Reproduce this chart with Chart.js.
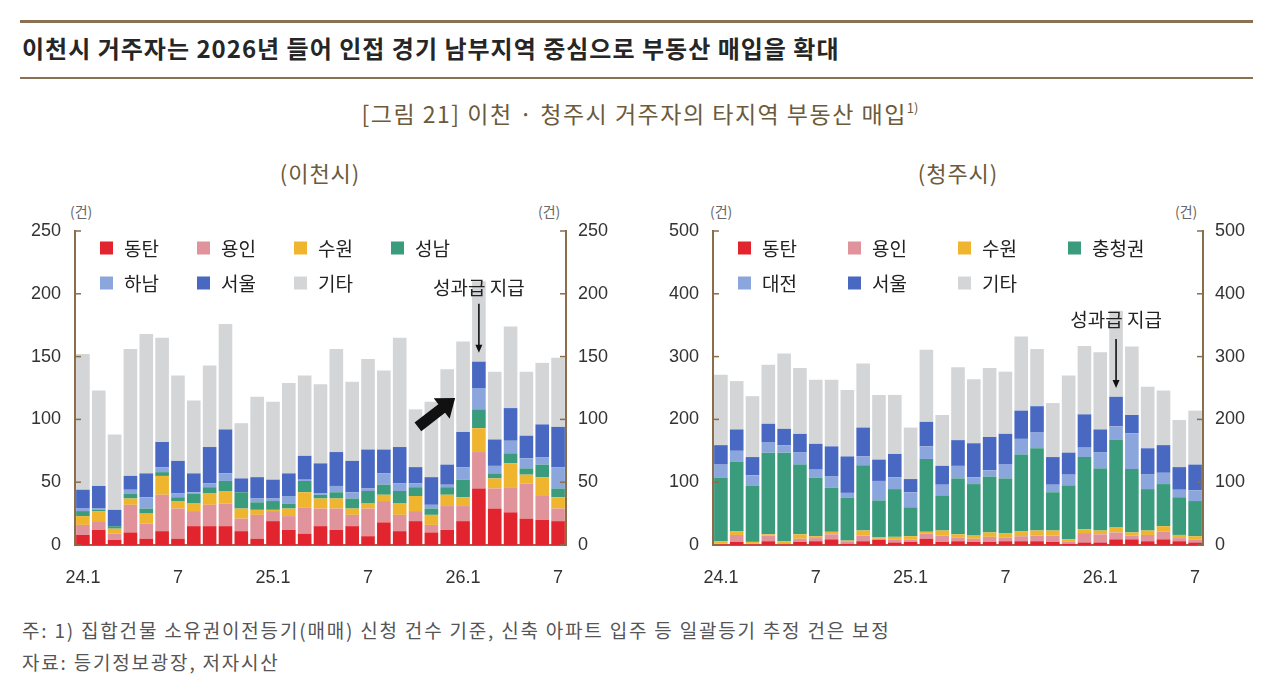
<!DOCTYPE html>
<html><head><meta charset="utf-8">
<script src="https://cdn.jsdelivr.net/npm/chart.js@4.4.1/dist/chart.umd.min.js"></script>
<style>
html,body{margin:0;padding:0;background:#fff;}
body{width:1280px;height:682px;position:relative;overflow:hidden;font-family:"Noto Sans CJK KR","Noto Sans",sans-serif;}
.abs{position:absolute;white-space:nowrap;}
.rule{position:absolute;left:20px;width:1233px;background:#8a7152;}
#title{left:22px;top:32px;font-size:24px;font-weight:700;color:#262626;line-height:32px;letter-spacing:1px;}
#sub{left:0;width:1280px;text-align:center;top:98px;font-size:23px;color:#6b5a3c;line-height:30px;letter-spacing:1.5px;}
#sub sup{font-size:13px;vertical-align:10px;line-height:0;letter-spacing:0;}
.ct{top:157px;font-size:22px;color:#6b5a3c;line-height:30px;letter-spacing:1px;transform:translateX(-50%);}
.unit{font-size:14px;color:#666;top:202px;line-height:18px;}
.note{left:22px;font-size:19px;color:#555;line-height:24px;letter-spacing:1.8px;}
.box{position:absolute;top:195px;width:640px;height:405px;}
</style></head>
<body>
<div class="rule" style="top:20px;height:3px;"></div>
<div id="title" class="abs">이천시 거주자는 2026년 들어 인접 경기 남부지역 중심으로 부동산 매입을 확대</div>
<div class="rule" style="top:77px;height:2px;"></div>
<div id="sub" class="abs">[그림 21] 이천 · 청주시 거주자의 타지역 부동산 매입<sup>1)</sup></div>
<div class="abs ct" style="left:320px;">(이천시)</div>
<div class="abs ct" style="left:958px;">(청주시)</div>
<div class="abs unit" style="left:70px;">(건)</div>
<div class="abs unit" style="left:538px;">(건)</div>
<div class="abs unit" style="left:710px;">(건)</div>
<div class="abs unit" style="left:1175px;">(건)</div>
<div class="box" style="left:0;"><canvas id="c1" width="640" height="405"></canvas></div>
<div class="box" style="left:640px;"><canvas id="c2" width="640" height="405"></canvas></div>
<div class="abs note" style="top:618px;">주: 1) 집합건물 소유권이전등기(매매) 신청 건수 기준, 신축 아파트 입주 등 일괄등기 추정 건은 보정</div>
<div class="abs note" style="top:650px;">자료: 등기정보광장, 저자시산</div>
<script>
// ---- categories & tick labels ----
const categories = ['24.1','24.2','24.3','24.4','24.5','24.6','24.7','24.8','24.9','24.10','24.11','24.12',
  '25.1','25.2','25.3','25.4','25.5','25.6','25.7','25.8','25.9','25.10','25.11','25.12',
  '26.1','26.2','26.3','26.4','26.5','26.6','26.7'];
const xTickLabels = ['24.1','','','','','','7','','','','','',
  '25.1','','','','','','7','','','','','',
  '26.1','','','','','','7'];

// ---- 이천시 series ----
const icheonNames = ['동탄','용인','수원','성남','하남','서울','기타'];
const icheonDongtan = [8,12,4,10,5,11,5,15,15,15,11,5,19,12,9,15,12,15,7,18,11,19,10,12,19,45,29,26,21,20,19];
const icheonYongin  = [8,7,5,22,12,29,24,12,17,18,10,19,8,11,21,14,17,9,22,17,13,8,6,19,12,29,16,20,28,19,10];
const icheonSuwon   = [7,8,4,5,8,15,6,6,9,10,8,4,1,6,12,8,8,5,4,5,9,12,8,9,7,19,8,19,7,15,9];
const icheonSeongnam= [4,1,2,4,4,3,3,8,5,8,13,6,7,4,9,3,5,8,10,8,10,7,5,6,14,15,4,8,5,10,7];
const icheonHanam   = [2,1,0,3,9,4,3,1,3,6,0,3,2,6,1,1,5,5,2,9,6,3,3,2,10,17,6,10,8,6,17];
const icheonSeoul   = [15,18,13,11,19,20,26,15,29,35,11,17,15,18,19,24,27,25,31,19,29,13,22,16,28,21,21,26,18,26,32];
const icheonEtc     = [108,76,60,101,111,83,68,58,65,84,44,64,62,72,64,63,82,63,72,63,87,46,60,76,72,64,54,65,51,49,55];

// ---- 청주시 series ----
const cheongjuNames = ['동탄','용인','수원','충청권','대전','서울','기타'];
const cheongjuDongtan = [1,5,1,6,1,5,6,9,2,6,8,4,5,10,5,6,5,5,6,6,6,5,2,4,4,9,9,6,9,6,4];
const cheongjuYongin  = [1,11,1,9,2,5,5,8,4,9,2,5,4,8,10,6,5,8,6,8,9,10,3,15,13,11,6,10,12,5,5];
const cheongjuSuwon   = [4,6,3,2,3,7,3,4,1,8,2,4,5,3,8,5,5,7,7,8,8,8,4,6,6,8,5,7,9,5,5];
const cheongjuChung   = [101,111,89,130,141,111,93,70,68,104,59,76,46,116,56,89,82,89,87,122,131,61,86,115,99,140,101,66,67,60,56];
const cheongjuDaejeon = [21,17,17,17,12,20,13,18,8,14,31,19,24,20,17,20,11,10,22,25,25,12,17,15,26,21,57,24,18,12,17];
const cheongjuSeoul   = [31,34,29,29,26,29,41,48,58,46,34,37,21,39,30,41,54,53,49,45,42,44,35,53,36,47,29,41,44,36,41];
const cheongjuEtc     = [112,77,97,94,120,105,102,106,106,102,103,94,82,115,81,116,102,110,99,118,91,86,123,109,123,137,109,98,87,75,86];

// ---- styles ----
const COLORS = ['#e2242e','#e0939b','#efb52e','#3b9b7d','#8ba6dd','#4868c2','#d4d5d7'];
const AXIS = '#8a6e4b';
const NUMFONT = '"Liberation Sans","Noto Sans",sans-serif';
const KRFONT = '"Noto Sans CJK KR","Noto Sans",sans-serif';

const inwardTicks = {
  id:'inwardTicks',
  afterDraw(chart){
    const ctx=chart.ctx, a=chart.chartArea;
    ctx.save(); ctx.strokeStyle=AXIS; ctx.lineWidth=1.5;
    ['y','y2'].forEach(id=>{
      const s=chart.scales[id]; const left = s.position==='left';
      s.ticks.forEach(t=>{
        const py=s.getPixelForValue(t.value);
        const x0= left? a.left : a.right;
        ctx.beginPath(); ctx.moveTo(x0,py); ctx.lineTo(x0+(left?6:-6),py); ctx.stroke();
      });
    });
    ctx.restore();
  }
};

const gridLegend = {
  id:'gridLegend',
  afterDraw(chart, args, o){
    const ctx=chart.ctx, a=chart.chartArea;
    ctx.save();
    ctx.font = '19px '+KRFONT; ctx.textBaseline='middle'; ctx.textAlign='left';
    chart.data.datasets.forEach((ds,i)=>{
      const r=Math.floor(i/o.cols), c=i%o.cols;
      const x=a.left+o.offsetX+c*o.pitch, y=a.top+o.rows[r];
      ctx.fillStyle=ds.backgroundColor; ctx.fillRect(x,y-6.5,13,13);
      ctx.fillStyle='#222'; ctx.fillText(ds.label,x+24,y+1);
    });
    ctx.restore();
  }
};

const notes = {
  id:'notes',
  afterDraw(chart, args, o){
    const ctx=chart.ctx, xs=chart.scales.x, ys=chart.scales.y;
    ctx.save();
    const px=xs.getPixelForValue(o.index);
    ctx.font='19px '+KRFONT; ctx.fillStyle='#222'; ctx.textAlign='center'; ctx.textBaseline='middle';
    ctx.fillText(o.text, px, ys.getPixelForValue(o.textValue));
    const y1=ys.getPixelForValue(o.lineFrom), y2=ys.getPixelForValue(o.lineTo);
    ctx.strokeStyle='#111'; ctx.lineWidth=1.6;
    ctx.beginPath(); ctx.moveTo(px,y1); ctx.lineTo(px,y2-5); ctx.stroke();
    ctx.fillStyle='#111'; ctx.beginPath(); ctx.moveTo(px,y2); ctx.lineTo(px-3.5,y2-8); ctx.lineTo(px+3.5,y2-8); ctx.closePath(); ctx.fill();
    if(o.bigArrow){
      const b=o.bigArrow;
      const x0=xs.getPixelForValue(b.from[0]), yy0=ys.getPixelForValue(b.from[1]);
      const x1=xs.getPixelForValue(b.to[0]), yy1=ys.getPixelForValue(b.to[1]);
      const ang=Math.atan2(yy1-yy0,x1-x0), len=Math.hypot(x1-x0,yy1-yy0);
      ctx.translate(x0,yy0); ctx.rotate(ang);
      const sw=5.5, hl=17, hw=13;
      ctx.fillStyle='#111';
      ctx.beginPath();
      ctx.moveTo(0,-sw); ctx.lineTo(len-hl,-sw); ctx.lineTo(len-hl,-hw); ctx.lineTo(len,0);
      ctx.lineTo(len-hl,hw); ctx.lineTo(len-hl,sw); ctx.lineTo(0,sw); ctx.closePath(); ctx.fill();
    }
    ctx.restore();
  }
};

function makeChart(id, names, series, maxV, step, leftW, rightW, legendPitch, noteOpts){
  const datasets = series.map((d,i)=>({label:names[i], data:d, backgroundColor:COLORS[i], borderWidth:0,
    barPercentage:0.86, categoryPercentage:1.0, yAxisID:'y'}));
  const yCommon = (pos, w, pad)=>({
    position:pos, min:0, max:maxV, stacked:true, display:true,
    grid:{display:false, drawTicks:false},
    border:{display:true, color:AXIS, width:2},
    ticks:{stepSize:step, padding:pad, color:'#333', font:{family:NUMFONT, size:18}},
    afterFit:s=>{s.width=w;}
  });
  return new Chart(document.getElementById(id), {
    type:'bar',
    data:{labels:categories, datasets},
    options:{
      responsive:false, animation:false, devicePixelRatio:1,
      layout:{padding:{top:36,left:0,right:0,bottom:0}},
      plugins:{legend:{display:false}, tooltip:{enabled:false},
        gridLegend:{cols:4, offsetX:25, pitch:legendPitch, rows:[17,52]},
        notes:noteOpts},
      scales:{
        x:{stacked:true, grid:{display:false, drawTicks:false},
          border:{display:true, color:AXIS, width:2},
          ticks:{autoSkip:false, maxRotation:0, minRotation:0, padding:22, color:'#333',
            font:{family:NUMFONT, size:18}, callback:(v,i)=>xTickLabels[i]},
          afterFit:s=>{s.height=55;}},
        y:yCommon('left', leftW, 14),
        y2:Object.assign(yCommon('right', rightW, 12), {stacked:false})
      }
    },
    plugins:[inwardTicks, gridLegend, notes]
  });
}

makeChart('c1', icheonNames,
  [icheonDongtan, icheonYongin, icheonSuwon, icheonSeongnam, icheonHanam, icheonSeoul, icheonEtc],
  250, 50, 75, 74, 97,
  {index:25, text:'성과급 지급', textValue:205, lineFrom:192, lineTo:153,
   bigArrow:{from:[21.15,94], to:[23.5,117]}});
makeChart('c2', cheongjuNames,
  [cheongjuDongtan, cheongjuYongin, cheongjuSuwon, cheongjuChung, cheongjuDaejeon, cheongjuSeoul, cheongjuEtc],
  500, 100, 73, 77, 110,
  {index:25, text:'성과급 지급', textValue:358, lineFrom:328, lineTo:250});
</script>
</body></html>
